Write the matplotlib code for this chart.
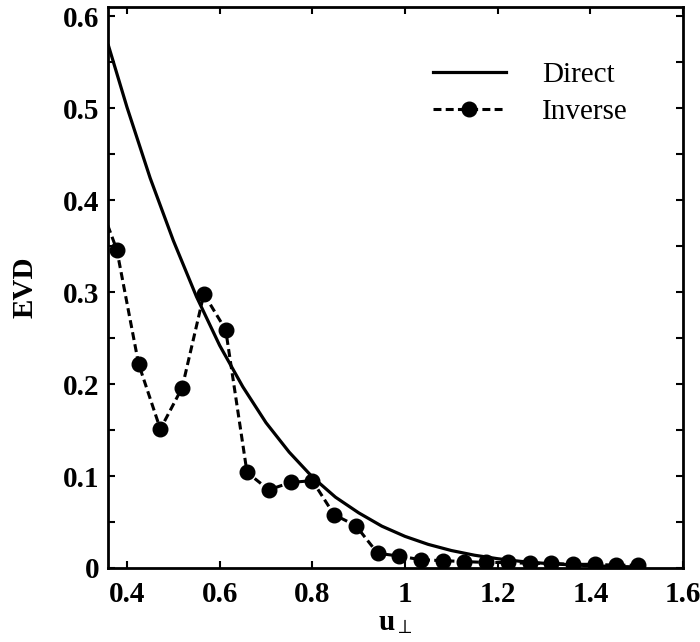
import matplotlib
matplotlib.use("Agg")
import matplotlib.pyplot as plt
from matplotlib.ticker import MultipleLocator

# ---------------------------------------------------------------------------
# Data
# ---------------------------------------------------------------------------
direct_x = [0.36, 0.40, 0.45, 0.50, 0.55, 0.60, 0.65, 0.70, 0.75, 0.80,
            0.85, 0.90, 0.95, 1.00, 1.05, 1.10, 1.15, 1.20, 1.25, 1.30,
            1.35, 1.40, 1.45, 1.50]
direct_y = [0.568, 0.501, 0.424, 0.356, 0.295, 0.242, 0.197, 0.158, 0.126, 0.099,
            0.077, 0.060, 0.0455, 0.0344, 0.0257, 0.0190, 0.0139, 0.0101, 0.0072, 0.0051,
            0.0036, 0.0025, 0.0017, 0.0012]

# first inverse point lies left of the axis and is clipped
inverse_x = [0.331, 0.378, 0.425, 0.472, 0.519, 0.566, 0.613, 0.659, 0.706, 0.753,
             0.800, 0.847, 0.894, 0.941, 0.987, 1.034, 1.081, 1.128, 1.175, 1.222,
             1.269, 1.316, 1.362, 1.409, 1.456, 1.503]
inverse_y = [0.410, 0.346, 0.222, 0.151, 0.196, 0.298, 0.259, 0.104, 0.085, 0.093,
             0.095, 0.058, 0.046, 0.016, 0.013, 0.009, 0.008, 0.007, 0.006, 0.006,
             0.005, 0.005, 0.004, 0.004, 0.003, 0.003]

x_ticks = [0.4, 0.6, 0.8, 1.0, 1.2, 1.4, 1.6]
x_ticklabels = ["0.4", "0.6", "0.8", "1", "1.2", "1.4", "1.6"]
y_ticks = [0, 0.1, 0.2, 0.3, 0.4, 0.5, 0.6]
y_ticklabels = ["0", "0.1", "0.2", "0.3", "0.4", "0.5", "0.6"]

# ---------------------------------------------------------------------------
# Style
# ---------------------------------------------------------------------------
plt.rcParams.update({
    "font.family": ["Liberation Serif", "DejaVu Serif"],
    "mathtext.fontset": "stix",
    "axes.linewidth": 2.0,
})

fig = plt.figure(figsize=(7.0, 6.42), dpi=100)
ax = fig.add_axes([108 / 700, (642 - 568) / 642, (683 - 108) / 700, (568 - 7) / 642])

ax.plot(direct_x, direct_y, color="black", lw=2.3, label="Direct")
ax.plot(inverse_x, inverse_y, color="black", lw=2.2, ls=(0, (2.6, 1.4)),
        marker="o", markersize=10.5, label="Inverse")

ax.set_xlim(0.359, 1.6)
ax.set_ylim(0, 0.61)

ax.set_xticks(x_ticks)
ax.set_xticklabels(x_ticklabels)
ax.set_yticks(y_ticks)
ax.set_yticklabels(y_ticklabels)
ax.yaxis.set_minor_locator(MultipleLocator(0.05))

ax.tick_params(which="both", direction="in", top=True, right=True,
               length=5, width=1.5)
ax.tick_params(axis="x", pad=9)
ax.tick_params(axis="y", pad=6)
for lbl in ax.get_xticklabels() + ax.get_yticklabels():
    lbl.set_fontsize(21)
    lbl.set_fontweight("bold")

ax.set_ylabel("EVD", fontsize=21, fontweight="bold", labelpad=18)
ax.set_xlabel(r"u$_{\perp}$", fontsize=21, fontweight="bold", labelpad=1)

leg = ax.legend(loc="upper left", bbox_to_anchor=(433 / 700, 1 - 62 / 642),
                bbox_transform=fig.transFigure, frameon=False, fontsize=21,
                handlelength=2.5, handletextpad=1.25, borderpad=0,
                borderaxespad=0, labelspacing=0.35)

fig.savefig("out.png", dpi=100)
